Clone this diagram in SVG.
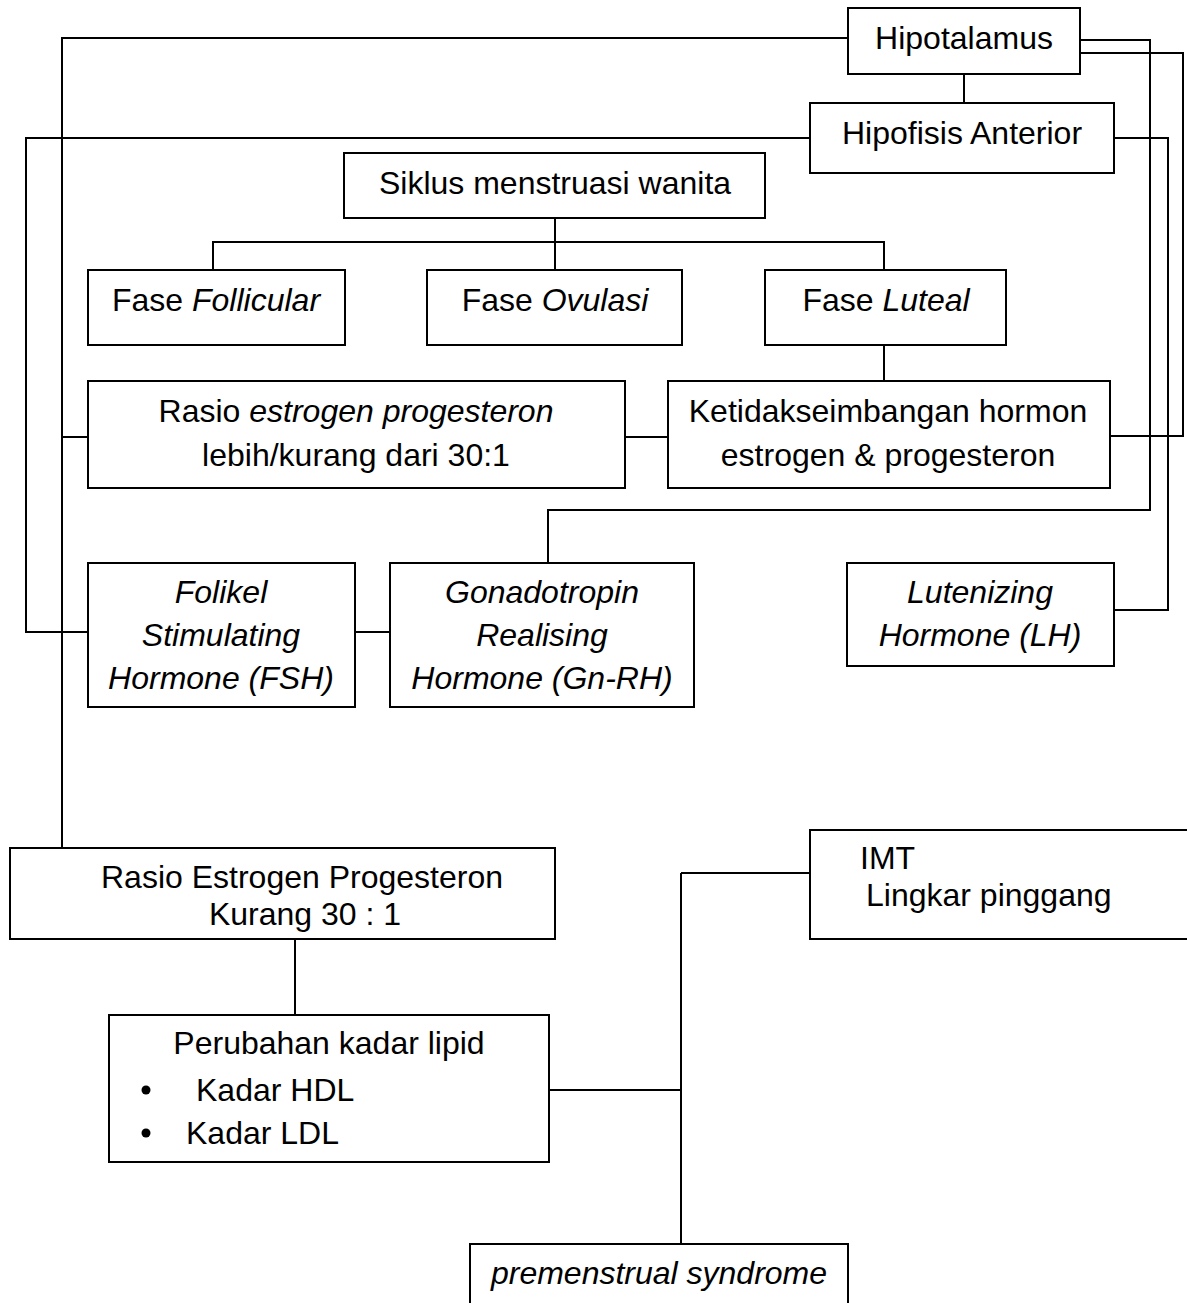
<svg xmlns="http://www.w3.org/2000/svg" width="1187" height="1303" viewBox="0 0 1187 1303">
<style>
rect{fill:#fff;stroke:#000;stroke-width:2}
text{font-family:"Liberation Sans",Arial,sans-serif;font-size:32px;fill:#000}
.m{text-anchor:middle}
.i{font-style:italic}
#connectors path{fill:none;stroke:#000;stroke-width:2}
</style>
<rect x="0" y="0" width="1187" height="1303" style="stroke:none"/>
<g id="connectors">
<path d="M848 38H62V848"/>
<path d="M810 138H26V632H88"/>
<path d="M62 437H88"/>
<path d="M964 74V103"/>
<path d="M1080 40H1150V510H548V563"/>
<path d="M1080 53H1183V436H1110"/>
<path d="M1114 138H1168V610H1114"/>
<path d="M555 218V270M213 270V242H884V270"/>
<path d="M884 345V381"/>
<path d="M625 437H668"/>
<path d="M355 632H390"/>
<path d="M295 939V1015"/>
<path d="M549 1090H681M681 873V1244M681 873H810"/>
</g>
<g id="hipotalamus"><rect x="848" y="8" width="232" height="66"/><text class="m" x="964" y="49">Hipotalamus</text></g>
<g id="hipofisis"><rect x="810" y="103" width="304" height="70"/><text class="m" x="962" y="144">Hipofisis Anterior</text></g>
<g id="siklus"><rect x="344" y="153" width="421" height="65"/><text class="m" x="555" y="194">Siklus menstruasi wanita</text></g>
<g id="follicular"><rect x="88" y="270" width="257" height="75"/><text class="m" x="216" y="311">Fase <tspan class="i">Follicular</tspan></text></g>
<g id="ovulasi"><rect x="427" y="270" width="255" height="75"/><text class="m" x="555" y="311">Fase <tspan class="i">Ovulasi</tspan></text></g>
<g id="luteal"><rect x="765" y="270" width="241" height="75"/><text class="m" x="886" y="311">Fase <tspan class="i">Luteal</tspan></text></g>
<g id="rasio1"><rect x="88" y="381" width="537" height="107"/><text class="m" x="356" y="422">Rasio <tspan class="i">estrogen progesteron</tspan></text><text class="m" x="356" y="466">lebih/kurang dari 30:1</text></g>
<g id="ketidakseimbangan"><rect x="668" y="381" width="442" height="107"/><text class="m" x="888" y="422">Ketidakseimbangan hormon</text><text class="m" x="888" y="466">estrogen &amp; progesteron</text></g>
<g id="fsh"><rect x="88" y="563" width="267" height="144"/><text class="m i" x="221" y="603">Folikel</text><text class="m i" x="221" y="646">Stimulating</text><text class="m i" x="221" y="689">Hormone (FSH)</text></g>
<g id="gnrh"><rect x="390" y="563" width="304" height="144"/><text class="m i" x="542" y="603">Gonadotropin</text><text class="m i" x="542" y="646">Realising</text><text class="m i" x="542" y="689">Hormone (Gn-RH)</text></g>
<g id="lh"><rect x="847" y="563" width="267" height="103"/><text class="m i" x="980" y="603">Lutenizing</text><text class="m i" x="980" y="646">Hormone (LH)</text></g>
<g id="rasio2"><rect x="10" y="848" width="545" height="91"/><text class="m" x="302" y="888">Rasio Estrogen Progesteron</text><text class="m" x="305" y="925">Kurang 30 : 1</text></g>
<g id="imt"><rect x="810" y="830" width="400" height="109"/><text x="860" y="869">IMT</text><text x="866" y="906">Lingkar pinggang</text></g>
<g id="lipid"><rect x="109" y="1015" width="440" height="147"/><text class="m" x="329" y="1054">Perubahan kadar lipid</text><circle cx="146" cy="1090" r="4.5"/><text x="196" y="1101">Kadar HDL</text><circle cx="146" cy="1133" r="4.5"/><text x="186" y="1144">Kadar LDL</text></g>
<g id="pms"><rect x="470" y="1244" width="378" height="80"/><text class="m i" x="659" y="1284">premenstrual syndrome</text></g>
</svg>
